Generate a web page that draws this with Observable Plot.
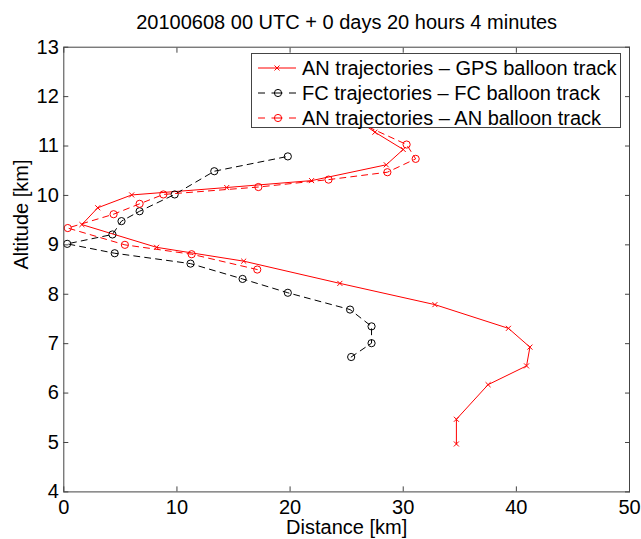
<!DOCTYPE html>
<html><head><meta charset="utf-8">
<script src="https://cdn.jsdelivr.net/npm/d3@7"></script>
<script src="https://cdn.jsdelivr.net/npm/@observablehq/plot@0.6"></script>
<style>
body{margin:0;background:#fff;}
#wrap{position:relative;width:641px;height:539px;font-family:"Liberation Sans",Arial,sans-serif;}
#legend{position:absolute;left:251px;top:53px;width:370px;height:75px;border:1px solid #444;background:#fff;box-sizing:border-box;}
.row{position:absolute;left:0;height:24px;width:100%;}
.row svg{position:absolute;left:0;top:0;}
.row span{position:absolute;left:50px;top:0;line-height:24px;font-size:20px;color:#000;white-space:nowrap;}
</style></head>
<body>
<div id="wrap"></div>
<script>
const titleText = "20100608 00 UTC + 0 days 20 hours 4 minutes";
const xLabel = "Distance [km]";
const yLabel = "Altitude [km]";
const xTicks = [0, 10, 20, 30, 40, 50];
const yTicks = [4, 5, 6, 7, 8, 9, 10, 11, 12, 13];

// AN trajectories - GPS balloon track (last point lies behind the legend)
const gpsDist = [34.7, 34.7, 37.5, 40.9, 41.2, 39.3, 32.8, 24.4, 15.9, 8.2, 1.6, 3.0, 6.0, 14.4, 21.9, 28.5, 30.0, 27.5, 25.8];
const gpsAlt  = [4.97, 5.47, 6.17, 6.55, 6.93, 7.31, 7.79, 8.22, 8.67, 8.95, 9.41, 9.75, 10.01, 10.16, 10.30, 10.62, 10.93, 11.28, 11.55];
// FC trajectories - FC balloon track
const fcDist = [25.4, 27.2, 27.2, 25.3, 19.8, 15.8, 11.2, 4.5, 0.3, 4.3, 5.1, 6.7, 9.8, 13.3, 19.8];
const fcAlt  = [6.73, 7.01, 7.35, 7.69, 8.03, 8.31, 8.62, 8.83, 9.02, 9.21, 9.48, 9.68, 10.02, 10.49, 10.79];
// AN trajectories - AN balloon track (last point lies behind the legend)
const anDist = [17.1, 11.3, 5.4, 0.35, 4.4, 6.7, 8.8, 17.2, 23.4, 28.6, 31.1, 30.3, 26.3];
const anAlt  = [8.50, 8.81, 9.00, 9.34, 9.62, 9.83, 10.02, 10.17, 10.32, 10.47, 10.74, 11.03, 11.45];

const seriesNames = ["AN trajectories \u2013 GPS balloon track", "FC trajectories \u2013 FC balloon track", "AN trajectories \u2013 AN balloon track"];
const seriesColors = ["#ff0000", "#000000", "#ff0000"];

const pts = (xs, ys) => xs.map((x, i) => ({x, y: ys[i]}));
const gps = pts(gpsDist, gpsAlt);
const fc = pts(fcDist, fcAlt);
const an = pts(anDist, anAlt);

const dash = "6,5";
const plot = Plot.plot({
  width: 641, height: 539,
  marginTop: 46.7, marginBottom: 47.6, marginLeft: 63.3, marginRight: 12,
  style: {fontFamily: "'Liberation Sans', Arial, sans-serif", fontSize: "20px", color: "#000", background: "#fff", overflow: "visible"},
  x: {domain: [0, 50]},
  y: {domain: [4, 13]},
  marks: [
    Plot.line(gps, {x: "x", y: "y", stroke: seriesColors[0], strokeWidth: 1}),
    Plot.dot(gps, {x: "x", y: "y", symbol: "times", r: 2.4, stroke: seriesColors[0], strokeWidth: 1}),
    Plot.line(fc, {x: "x", y: "y", stroke: seriesColors[1], strokeWidth: 1, strokeDasharray: dash}),
    Plot.dot(fc, {x: "x", y: "y", r: 3.6, stroke: seriesColors[1], strokeWidth: 1}),
    Plot.line(an, {x: "x", y: "y", stroke: seriesColors[2], strokeWidth: 1, strokeDasharray: dash}),
    Plot.dot(an, {x: "x", y: "y", r: 3.6, stroke: seriesColors[2], strokeWidth: 1}),
    Plot.frame({stroke: "#444"}),
    Plot.axisX(xTicks, {anchor: "bottom", tickSize: 0, tickPadding: 8, label: null}),
    Plot.axisY(yTicks, {anchor: "left", tickSize: 0, tickPadding: 5, label: null}),
    Plot.axisX(xTicks, {anchor: "bottom", tickSize: -5, tickFormat: () => "", label: null, stroke: "#444"}),
    Plot.axisX(xTicks, {anchor: "top", tickSize: -5, tickFormat: () => "", label: null, stroke: "#444"}),
    Plot.axisY(yTicks, {anchor: "left", tickSize: -5, tickFormat: () => "", label: null, stroke: "#444"}),
    Plot.axisY(yTicks, {anchor: "right", tickSize: -5, tickFormat: () => "", label: null, stroke: "#444"}),
    Plot.text([titleText], {text: d => d, frameAnchor: "top", dy: -24.5, lineAnchor: "middle", fontSize: 20}),
    Plot.text([xLabel], {text: d => d, frameAnchor: "bottom", dy: 35.5, lineAnchor: "middle", fontSize: 20}),
    Plot.text([yLabel], {text: d => d, frameAnchor: "left", dx: -42, rotate: -90, lineAnchor: "middle", fontSize: 20})
  ]
});
const wrap = document.getElementById("wrap");
wrap.appendChild(plot);

// legend
const legend = document.createElement("div");
legend.id = "legend";
const rowTops = [1.5, 27, 51.5];
const samples = [
  `<line x1="6" x2="44" y1="12" y2="12" stroke="#ff0000" stroke-width="1"/><path d="M22.5,9.5L27.5,14.5M22.5,14.5L27.5,9.5" stroke="#ff0000" stroke-width="1"/>`,
  `<line x1="6" x2="44" y1="12" y2="12" stroke="#000" stroke-width="1" stroke-dasharray="7,6.5,11,6.5,7"/><circle cx="26" cy="12" r="3.6" fill="none" stroke="#000" stroke-width="1"/>`,
  `<line x1="6" x2="44" y1="12" y2="12" stroke="#ff0000" stroke-width="1" stroke-dasharray="7,6.5,11,6.5,7"/><circle cx="26" cy="12" r="3.6" fill="none" stroke="#ff0000" stroke-width="1"/>`
];
seriesNames.forEach((name, i) => {
  const row = document.createElement("div");
  row.className = "row";
  row.style.top = rowTops[i] + "px";
  row.innerHTML = `<svg width="50" height="24">${samples[i]}</svg><span>${name}</span>`;
  legend.appendChild(row);
});
wrap.appendChild(legend);
</script>
</body></html>
